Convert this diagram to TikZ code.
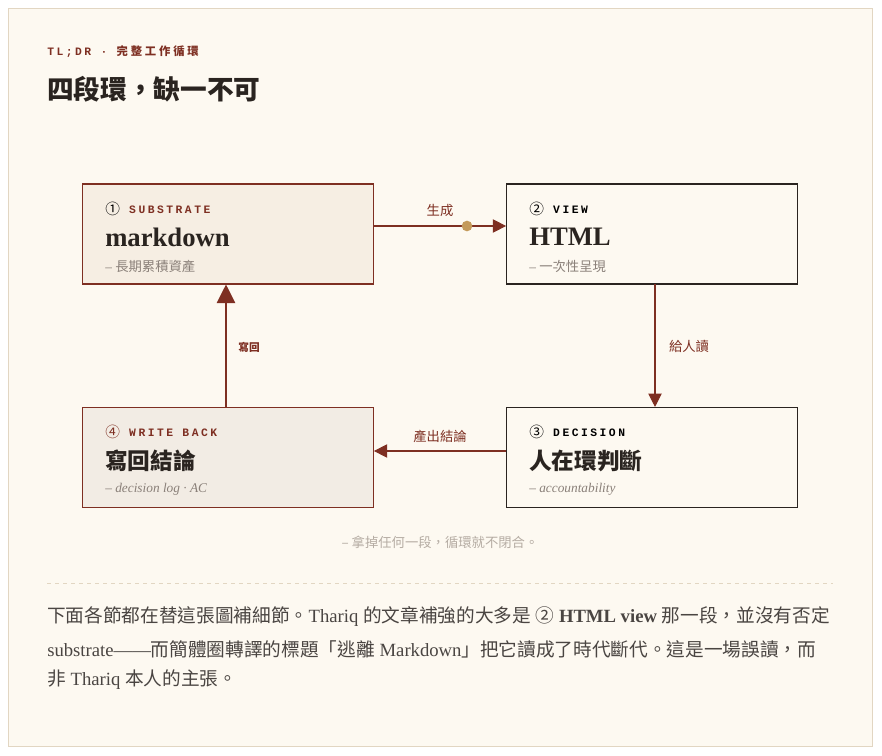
\documentclass[tikz,border=0pt]{standalone}
\usepackage{fontspec}
\setmainfont{Liberation Serif}
\newfontfamily\cjk{Noto Sans CJK TC}
\newfontfamily\cjkspaced[LetterSpace=25]{Noto Sans CJK TC}
\newfontfamily\tagfont[LetterSpace=22]{Liberation Mono}
\usetikzlibrary{positioning, arrows.meta}
\definecolor{paper}{HTML}{FDF9F1}
\definecolor{frame}{HTML}{E2D6C2}
\definecolor{rust}{HTML}{7E2F22}
\definecolor{ink}{HTML}{2A2420}
\definecolor{mute}{HTML}{8A8079}
\definecolor{pale}{HTML}{B5ACA3}
\definecolor{sandfill}{HTML}{F6EEE3}
\definecolor{greyfill}{HTML}{F2ECE4}
\definecolor{dotcol}{HTML}{C49A5A}
\newcommand{\zh}[1]{{\cjk #1}}
\newcommand{\circnum}[1]{\raisebox{-0.8pt}{\cjk\mdseries\fontsize{11}{11}\selectfont #1}}
\begin{document}
\begin{tikzpicture}[
			x=0.75pt, y=-0.75pt,
			stage/.style={
				draw=rust,
				thick,
				minimum width=218pt,
				minimum height=75pt,
				inner sep=0pt
			},
			dark/.style={
				stage,
				draw=ink,
				fill=paper
			},
			tag/.style={
				anchor=west,
				inner sep=0pt,
				font=\tagfont\bfseries\fontsize{8.5}{8.5}\selectfont
			},
			headline/.style={
				anchor=west,
				inner sep=0pt,
				text=ink,
				font=\fontsize{20}{20}\selectfont\bfseries
			},
			note/.style={
				anchor=west,
				inner sep=0pt,
				text=mute,
				font=\fontsize{10}{10}\selectfont\itshape
			},
			flow/.style={
				draw=rust,
				thick,
				-{Triangle[length=10pt,width=10pt]}
			},
			flowlabel/.style={
				text=rust,
				font=\cjk\fontsize{10}{10}\selectfont\itshape
			},
			body/.style={
				anchor=west,
				inner sep=0pt,
				text=ink!85,
				font=\fontsize{14}{14}\selectfont
			}
			]
			% Page
			\fill[white] (0,0) rectangle (882,756);
			\draw[frame, fill=paper] (8.5,8.5) rectangle (872.5,746.5);
			% Header
			\node[tag, text=rust] (kicker) at (47,52) {TL;DR · {\cjkspaced\fontsize{8.5}{8.5}\selectfont 完整工作循環}};
			\node[anchor=west, inner sep=0pt, text=ink, font=\cjk\fontsize{20}{20}\selectfont\bfseries] (title) at (47,89) {四段環，缺一不可};
			% Stages
			\node[stage, fill=sandfill] (sub) at (228,234) {};
			\node[dark] (view) at (652,234) {};
			\node[dark] (dec) at (652,457.5) {};
			\node[stage, fill=greyfill] (wb) at (228,457.5) {};
			% Stage texts
			\node[tag] (subtag) at (105,209) {\circnum{①} \textcolor{rust}{SUBSTRATE}};
			\node[headline] (subhead) at (105,237) {markdown};
			\node[note] (subnote) at (105,266) {– \zh{長期累積資產}};
			\node[tag] (viewtag) at (529,209) {\circnum{②} VIEW};
			\node[headline] (viewhead) at (529,237) {HTML};
			\node[note] (viewnote) at (529,266) {– \zh{一次性呈現}};
			\node[tag] (dectag) at (529,432) {\circnum{③} DECISION};
			\node[headline, font=\cjk\fontsize{17}{17}\selectfont\bfseries] (dechead) at (529,461) {人在環判斷};
			\node[note] (decnote) at (529,489) {– accountability};
			\node[tag, text=rust] (wbtag) at (105,432) {\circnum{④} WRITE BACK};
			\node[headline, font=\cjk\fontsize{17}{17}\selectfont\bfseries] (wbhead) at (105,461) {寫回結論};
			\node[note] (wbnote) at (105,489) {– decision log · AC};
			% Connectors
			\coordinate (gen) at (467,226);
			\draw[flow] (sub.east |- gen) -- (view.west |- gen);
			\fill[dotcol] (gen) circle (4pt);
			\node[flowlabel] (genlabel) at (440,210) {生成};
			\coordinate (read) at (655,284);
			\draw[flow] (read) -- (read |- dec.north);
			\node[flowlabel] (readlabel) at (689,346) {給人讀};
			\coordinate (out) at (505,451);
			\draw[flow] (dec.west |- out) -- (wb.east |- out);
			\node[flowlabel] (outlabel) at (440,436) {產出結論};
			\coordinate (back) at (226,407);
			\draw[draw=rust, thick, -{Triangle[length=14pt,width=14pt]}] (back) -- (back |- sub.south);
			\node[text=rust, font=\cjk\fontsize{8}{8}\selectfont\bfseries] (backlabel) at (249,347) {寫回};
			% Caption and text
			\node[text=pale, font=\cjk\fontsize{10}{10}\selectfont\itshape] (caption) at (440,542) {– 拿掉任何一段，循環就不閉合。};
			\draw[frame, dashed] (47,583) -- (833,583);
			\node[body] (line1) at (47,617) {\zh{下面各節都在替這張圖補細節。}Thariq \zh{的文章補強的大多是} \zh{②} \textbf{HTML view} \zh{那一段，並沒有否定}};
			\node[body] (line2) at (47,649) {substrate——\zh{而簡體圈轉譯的標題「逃離} Markdown\zh{」把它讀成了時代斷代。這是一場誤讀，而}};
			\node[body] (line3) at (47,680) {\zh{非} Thariq \zh{本人的主張。}};
		\end{tikzpicture}
\end{document}
